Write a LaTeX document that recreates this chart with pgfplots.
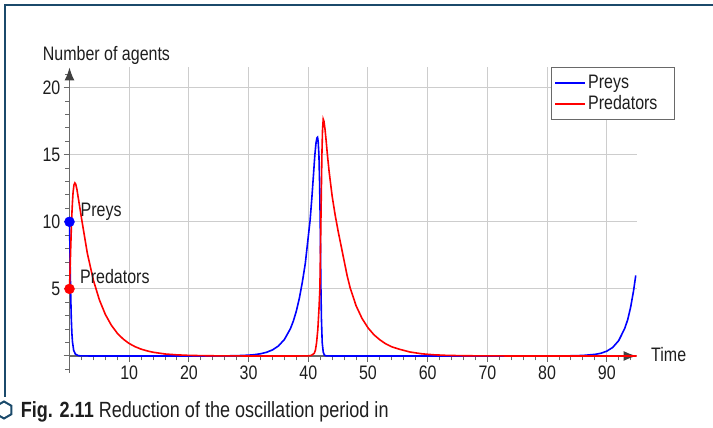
\documentclass[border=0pt]{standalone}
\usepackage{fontspec}
\setmainfont{Liberation Sans}[FakeStretch=0.82]
\usepackage{pgfplots}
\pgfplotsset{compat=1.18}
\usetikzlibrary{arrows.meta}
\definecolor{frame}{RGB}{27,74,107}
\definecolor{txt}{RGB}{30,30,30}
\definecolor{axgray}{RGB}{105,105,105}
\definecolor{gridgray}{RGB}{205,205,205}
\newcommand{\fs}{\fontsize{19.5}{21}\selectfont}
\begin{document}
\begin{tikzpicture}[x=1pt,y=1pt]
\useasboundingbox (0,0) rectangle (713,428);
\fill[white] (0,0) rectangle (713,428);
\draw[frame, line width=2.7pt, line join=miter] (5,31) -- (5,423) -- (714,423);
\begin{axis}[
  at={(69.5pt,72pt)}, anchor=south west,
  scale only axis, width=567.15pt, height=288.5pt,
  xmin=0, xmax=95, ymin=0, ymax=21.5,
  axis lines=middle,
  axis line style={draw=axgray, line width=1.2pt},
  every inner x axis line/.append style={-{Latex[length=13pt,width=10pt,color=black!75]}},
  every inner y axis line/.append style={-{Latex[length=13pt,width=10pt,color=black!75]}},
  clip=false,
  xtick={10,20,...,90}, ytick={0,5,10,15,20}, yticklabels={,5,10,15,20},
  hide obscured y ticks=false,
  minor xtick={2,4,...,94}, minor ytick={1,2,...,21},
  tick align=outside, major tick length=6pt, minor tick length=4.5pt,
  tick style={draw=axgray, line width=1pt},
  grid=major, major grid style={draw=gridgray, line width=1pt},
  /pgf/number format/assume math mode=true,
  ticklabel style={font=\fs, text=txt},
  xticklabel style={anchor=north, inner sep=0pt, yshift=-4pt},
  yticklabel style={anchor=east, inner sep=0pt, xshift=-3pt},
  legend style={at={(1.0676,1.0017)}, anchor=north east, draw=axgray, line width=1pt,
    fill=white, inner xsep=3pt, inner ysep=5pt, row sep=0pt, font=\fs, text=txt,
    nodes={text height=14pt, text depth=4pt, inner ysep=1.5pt, inner xsep=2pt}},
  legend cell align=left,
  legend image code/.code={\draw[#1, line width=2pt] (0pt,0pt) -- (30pt,0pt);},
]
\addplot[blue, line width=1.6pt] coordinates {
(0,10) (0.05,8.6) (0.1,7.1) (0.15,5.8) (0.2,4.6) (0.3,2.8) (0.4,1.7) (0.5,1.05) (0.7,0.42) (1.0,0.13) (1.5,0.025) (2,0.005) (5,0.001) (10,0.0003) (20,0.0004) (24,0.003) (26,0.008) (28,0.023) (30,0.061) (31,0.101) (32,0.167) (33,0.275) (34,0.454) (35,0.748) (36,1.233) (37,2.03) (37.5,2.61) (38,3.35) (38.5,4.3) (39,5.5) (39.5,6.9) (40,8.9) (40.3,10.1) (40.6,11.8) (40.9,13.7) (41.1,15.0) (41.3,15.9) (41.45,16.25) (41.55,16.3) (41.65,16.0) (41.78,15.0) (41.9,12.8) (42.0,10.0) (42.1,5.5) (42.2,2.8) (42.33,1.0) (42.5,0.3) (42.7,0.06) (43,0.01) (44,0.001) (60,0.0001) (80,0.0017) (84,0.015) (86,0.04) (88,0.12) (89,0.2) (90,0.36) (91,0.64) (92,1.15) (93,2.05) (93.5,2.7) (94,3.65) (94.5,4.9) (94.85,6.0)
};
\addlegendentry{Preys}
\addplot[red, line width=1.6pt] coordinates {
(0,5) (0.1,6.5) (0.2,8.0) (0.3,9.4) (0.4,10.6) (0.5,11.5) (0.6,12.2) (0.75,12.75) (0.9,12.9) (1.05,12.8) (1.25,12.4) (1.5,11.7) (2,10.3) (3,7.63) (4,5.65) (5,4.19) (6,3.10) (7,2.30) (8,1.70) (9,1.26) (10,0.93) (11,0.69) (12,0.51) (13,0.38) (14,0.28) (16,0.15) (18,0.085) (20,0.046) (23,0.019) (26,0.008) (30,0.002) (35,0.001) (38,0.002) (39,0.005) (40,0.015) (40.5,0.04) (41,0.2) (41.2,0.45) (41.39,1.0) (41.6,2.0) (41.8,3.6) (41.94,5.0) (42.03,7.5) (42.11,10.0) (42.2,12.7) (42.28,15.0) (42.38,16.8) (42.5,17.65) (42.62,17.5) (42.8,16.9) (43.0,16.0) (43.2,15.0) (43.5,13.7) (44,11.9) (44.5,10.5) (45,9.3) (45.5,8.2) (46,7.1) (46.5,6.0) (47,5.1) (48,3.75) (49,2.8) (50,2.1) (51,1.58) (52,1.2) (53,0.9) (54,0.68) (55.3,0.5) (57,0.3) (59,0.165) (61,0.09) (63,0.05) (66,0.02) (70,0.006) (75,0.0015) (80,0.0005) (95,0.0001)
};
\addlegendentry{Predators\kern12pt}
\addplot[only marks, mark=*, mark size=5pt, blue, forget plot] coordinates {(0,10)};
\addplot[only marks, mark=*, mark size=5pt, red, forget plot] coordinates {(0,5)};
\draw[axgray, line width=1.2pt] (axis cs:0,0) -- (axis cs:0,-1.25);
\draw[axgray, line width=1pt] (axis cs:0,-1) -- ++(-4.5pt,0pt);
\node[anchor=base west, inner sep=0pt, font=\fs, text=txt, xshift=11pt, yshift=5.5pt] at (axis cs:0,10) {Preys};
\node[anchor=base west, inner sep=0pt, font=\fs, text=txt, xshift=10.5pt, yshift=5pt] at (axis cs:0,5) {Predators};
\end{axis}
\node[anchor=base west, inner sep=0pt, font=\fs, text=txt] at (42.7,367) {Number of agents};
\node[anchor=base west, inner sep=0pt, font=\fs, text=txt] at (651,66.5) {Time};
\draw[frame, line width=2pt] (4,26.5) -- ++(-30:8.5) -- ++(-90:8.5) -- ++(-150:8.5) -- ++(150:8.5) -- ++(90:8.5) -- cycle;
\node[anchor=base west, inner sep=0pt, font=\fontsize{22}{24}\selectfont, text=txt] at (20.7,10.7) {\textbf{Fig. 2.11} Reduction of the oscillation period in};
\end{tikzpicture}
\end{document}
